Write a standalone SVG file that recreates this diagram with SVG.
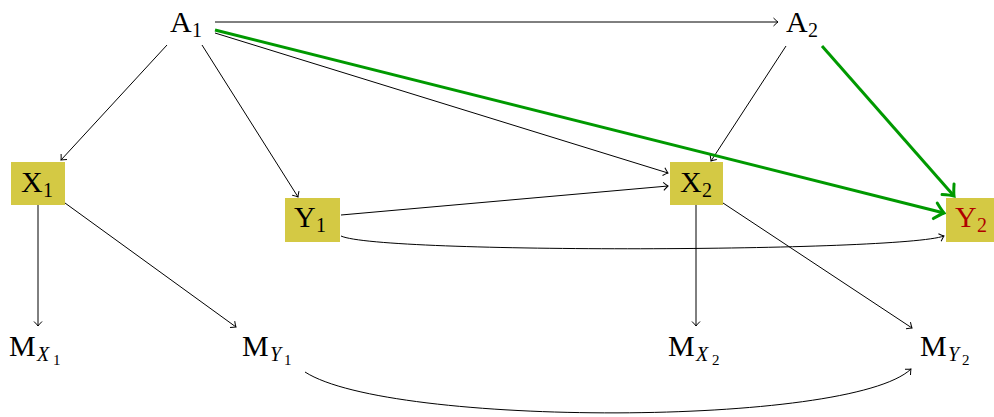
<svg xmlns="http://www.w3.org/2000/svg" width="994" height="417" viewBox="0 0 994 417">
<style>
text{font-family:"Liberation Serif","DejaVu Serif",serif;fill:#000}
.m{font-size:30px}
.s{font-size:20px}
.ss{font-size:15px}
.box{fill:#d4c944}
.e{fill:none;stroke:#000;stroke-width:1}
.g{fill:none;stroke:#009900;stroke-width:3}
</style>
<defs>
<marker id="a" markerUnits="userSpaceOnUse" markerWidth="12" markerHeight="12" viewBox="-8 -6 10 12" refX="0" refY="0" orient="auto">
<path d="M-4.5,-4 Q-1.5,-1 0,0 Q-1.5,1 -4.5,4" fill="none" stroke="#000" stroke-width="1"/>
</marker>
<marker id="ag" markerUnits="userSpaceOnUse" markerWidth="20" markerHeight="20" viewBox="-14 -10 18 20" refX="0" refY="0" orient="auto">
<path d="M-9,-8 Q-3,-2 0,0 Q-3,2 -9,8" fill="none" stroke="#009900" stroke-width="3" stroke-linecap="round"/>
</marker>
</defs>
<g id="edges">
<path class="e" d="M215,22 L778,22" marker-end="url(#a)"/>
<path class="e" d="M167,45 L61,160" marker-end="url(#a)"/>
<path class="e" d="M202,45 L298,197" marker-end="url(#a)"/>
<path class="e" d="M215,33 L668,173" marker-end="url(#a)"/>
<path class="e" d="M786,46 L711,161" marker-end="url(#a)"/>
<path class="e" d="M341,215 L668,186" marker-end="url(#a)"/>
<path class="e" d="M341,236 C380,254 900,252 944,236" marker-end="url(#a)"/>
<path class="e" d="M38,205 L38,326" marker-end="url(#a)"/>
<path class="e" d="M65,203 L236,327" marker-end="url(#a)"/>
<path class="e" d="M696,205 L696,326" marker-end="url(#a)"/>
<path class="e" d="M723,203 L912,328" marker-end="url(#a)"/>
<path class="e" d="M305,372 C390,427 850,427 911,369" marker-end="url(#a)"/>
<path class="g" d="M215,30 L944,213" marker-end="url(#ag)"/>
<path class="g" d="M822,46 L954,196" marker-end="url(#ag)"/>
</g>
<g id="A1"><text x="170" y="32" class="m">A</text><text x="192" y="37" class="s">1</text></g>
<g id="A2"><text x="786" y="32" class="m">A</text><text x="808" y="37" class="s">2</text></g>
<g id="X1"><rect class="box" x="11" y="162" width="54" height="43"/><text x="21" y="192" class="m">X</text><text x="43" y="197" class="s">1</text></g>
<g id="Y1"><rect class="box" x="285" y="198" width="55" height="44"/><text x="294" y="227" class="m">Y</text><text x="316" y="232" class="s">1</text></g>
<g id="X2"><rect class="box" x="670" y="162" width="53" height="43"/><text x="680" y="192" class="m">X</text><text x="702" y="197" class="s">2</text></g>
<g id="Y2"><rect class="box" x="946" y="198" width="48" height="44"/><text x="955" y="227" class="m" style="fill:#b00000">Y</text><text x="977" y="232" class="s" style="fill:#b00000">2</text></g>
<g id="MX1"><text x="9" y="356" class="m">M</text><text x="37" y="361" class="s" font-style="italic">X</text><text x="53" y="365" class="ss">1</text></g>
<g id="MY1"><text x="242" y="356" class="m">M</text><text x="270" y="361" class="s" font-style="italic">Y</text><text x="284" y="365" class="ss">1</text></g>
<g id="MX2"><text x="668" y="356" class="m">M</text><text x="696" y="361" class="s" font-style="italic">X</text><text x="712" y="365" class="ss">2</text></g>
<g id="MY2"><text x="920" y="356" class="m">M</text><text x="948" y="361" class="s" font-style="italic">Y</text><text x="962" y="365" class="ss">2</text></g>
</svg>
